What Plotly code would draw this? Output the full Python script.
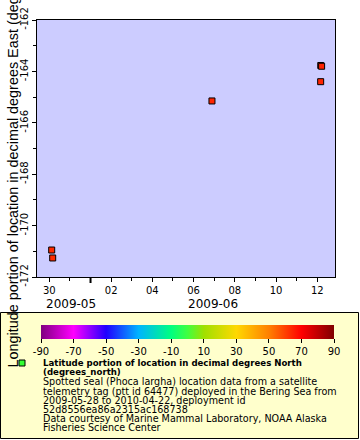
import plotly.graph_objects as go

# ---- data ----
times = ["2009-05-30 02:47", "2009-05-30 03:57", "2009-06-06 21:24",
         "2009-06-12 03:58", "2009-06-12 04:05", "2009-06-12 05:05"]
longitudes = [-170.95, -171.26, -165.15, -164.40, -163.77, -163.80]
latitudes = [63.4, 63.3, 64.2, 64.4, 64.5, 64.5]

x_tick_vals = ["2009-05-30", "2009-06-02", "2009-06-04", "2009-06-06",
               "2009-06-08", "2009-06-10", "2009-06-12"]
x_tick_text = ["30", "02", "04", "06", "08", "10", "12"]
x_minor_vals = ["2009-05-%02d" % d for d in (29, 30, 31)] + ["2009-06-%02d" % d for d in range(1, 13)]
month_labels = ["2009-05", "2009-06"]
y_tick_vals = [-172, -170, -168, -166, -164, -162]
y_tick_text = ["-172", "-170", "-168", "-166", "-164", "-162"]
cbar_ticks = [-90, -70, -50, -30, -10, 10, 30, 50, 70, 90]
cbar_text = ["-90", "-70", "-50", "-30", "-10", "10", "30", "50", "70", "90"]
y_title = "Longitude portion of location in decimal degrees East (degrees_east)"

legend_lines = [
    "<b>Latitude portion of location in decimal degrees North</b>",
    "<b>(degrees_north)</b>",
    "Spotted seal (Phoca largha) location data from a satellite",
    "telemetry tag (ptt id 64477) deployed in the Bering Sea from",
    "2009-05-28 to 2010-04-22, deployment id",
    "52d8556ea86a2315ac168738",
    "Data courtesy of Marine Mammal Laboratory, NOAA Alaska",
    "Fisheries Science Center",
]

colorscale = [[0.0, "#800080"], [0.111, "#ff00ff"], [0.222, "#2000ff"],
              [0.333, "#00b4ff"], [0.444, "#00ff80"], [0.5, "#40ff40"],
              [0.556, "#a0e000"], [0.667, "#ffd800"], [0.778, "#ff8000"],
              [0.889, "#ff0000"], [1.0, "#800000"]]

# ---- layout geometry (pixels) ----
W, H = 360, 440
L, R, T, B = 37, 25, 20, 163
PW, PH = W - L - R, H - T - B


def px(xp):
    return (xp - L) / PW


def py(yp):
    return (H - B - yp) / PH


FONT = "DejaVu Sans"

fig = go.Figure()
fig.add_trace(go.Scatter(
    x=times, y=longitudes, mode="markers",
    marker=dict(symbol="square", size=6, color=latitudes, cmin=-90, cmax=90,
                colorscale=colorscale, line=dict(color="black", width=1),
                colorbar=dict(orientation="h", x=px(187.5), xanchor="center",
                              y=py(325), yanchor="top", len=293, lenmode="pixels",
                              thickness=14, thicknessmode="pixels", xpad=0, ypad=0,
                              outlinewidth=0, tickmode="array", tickvals=cbar_ticks,
                              ticktext=cbar_text, ticks="outside",
                              ticklen=4, tickcolor="black",
                              tickfont=dict(family=FONT, size=10, color="black"))),
    showlegend=False, hoverinfo="x+y"))

shapes = [
    dict(type="rect", xref="paper", yref="paper", x0=px(0.5), x1=px(358.5),
         y0=py(438.5), y1=py(312.5), fillcolor="#ffffcc",
         line=dict(color="black", width=1), layer="below"),
    dict(type="rect", xref="paper", yref="paper", x0=px(19), x1=px(25),
         y0=py(366), y1=py(360), fillcolor="#33ff33",
         line=dict(color="black", width=1)),
    dict(type="line", xref="x", yref="paper", x0="2009-06-01", x1="2009-06-01",
         y0=0, y1=py(283), line=dict(color="black", width=2)),
]

annotations = [
    dict(text=month_labels[0], xref="paper", yref="paper", x=px(71), y=py(295),
         xanchor="center", yanchor="top", showarrow=False,
         font=dict(family=FONT, size=12, color="black")),
    dict(text=month_labels[1], xref="paper", yref="paper", x=px(213), y=py(295),
         xanchor="center", yanchor="top", showarrow=False,
         font=dict(family=FONT, size=12, color="black")),
    dict(text=y_title, xref="paper", yref="paper", x=px(12), y=0.5,
         xanchor="center", yanchor="middle", textangle=-90, showarrow=False,
         font=dict(family="Liberation Sans", size=14.4, color="black")),
]
line_y = [363, 372, 382, 391, 400, 409, 418, 427]
for i, (txt, yy) in enumerate(zip(legend_lines, line_y)):
    annotations.append(dict(text=txt, xref="paper", yref="paper", x=px(41), y=py(yy),
                            xanchor="left", yanchor="middle", showarrow=False,
                            font=dict(family=FONT, size=8.6 if i < 2 else 9.6,
                                      color="black")))

fig.update_layout(
    width=W, height=H, margin=dict(l=L, r=R, t=T, b=B, pad=0, autoexpand=False),
    paper_bgcolor="white", plot_bgcolor="#ccccff",
    font=dict(family=FONT, size=10, color="black"),
    shapes=shapes, annotations=annotations,
    xaxis=dict(type="date", range=["2009-05-29 09:40", "2009-06-12 20:40"],
               automargin=False,
               tickmode="array", tickvals=x_tick_vals, ticktext=x_tick_text,
               ticks="outside", ticklen=4, tickcolor="black",
               minor=dict(tickmode="array", tickvals=x_minor_vals, ticks="outside",
                          ticklen=3, tickcolor="black"),
               showgrid=False, zeroline=False, showline=True, linecolor="black",
               linewidth=1, mirror=True,
               tickfont=dict(family=FONT, size=10, color="black")),
    yaxis=dict(range=[-172, -162], tickmode="array", tickvals=y_tick_vals,
               ticktext=y_tick_text, automargin=False,
               ticks="outside", ticklen=4, tickcolor="black", tickangle=-90,
               minor=dict(dtick=1, ticks="outside", ticklen=3, tickcolor="black"),
               showgrid=False, zeroline=False, showline=True, linecolor="black",
               linewidth=1, mirror=True,
               tickfont=dict(family=FONT, size=10, color="black")),
)

fig.write_html("out.html", config={"displayModeBar": False},
               post_script="document.body.style.margin='0';")
